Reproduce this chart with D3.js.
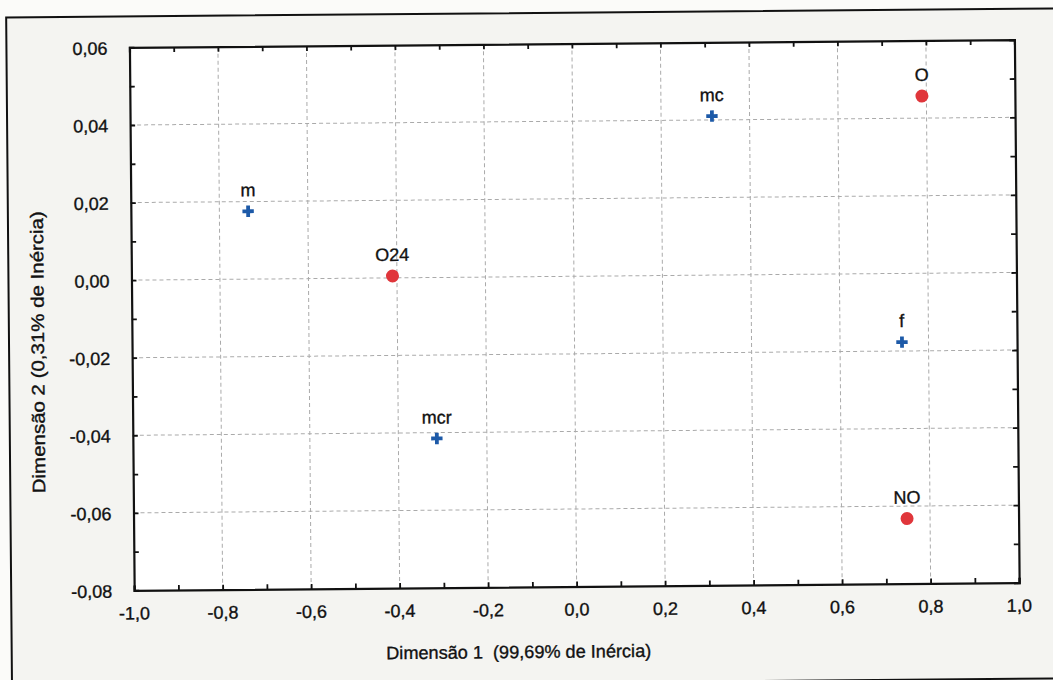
<!DOCTYPE html>
<html>
<head>
<meta charset="utf-8">
<script src="https://cdn.jsdelivr.net/npm/d3@7"></script>
<style>
  body { margin: 0; background: #fbfbf9; }
  svg { display: block; }
  text { font-family: "Liberation Sans", Arial, sans-serif; fill: #111; stroke: #111; stroke-width: 0.35px; }
  .tick-label { font-size: 18px; }
  .pt-label { font-size: 18px; }
  .axis-title { font-size: 18px; }
</style>
</head>
<body>
<script>
// category points (blue crosses)
var rowNames = ["m", "mc", "mcr", "f"];
var rowDim1 = [-0.735, 0.315, -0.313, 0.74];
var rowDim2 = [0.0175, 0.041, -0.0415, -0.0177];

// column points (red dots)
var colNames = ["O", "O24", "NO"];
var colDim1 = [0.79, -0.41, 0.748];
var colDim2 = [0.0457, 0.0005, -0.0632];

var xTicks = [-1.0, -0.8, -0.6, -0.4, -0.2, 0.0, 0.2, 0.4, 0.6, 0.8, 1.0];
var yTicks = [-0.08, -0.06, -0.04, -0.02, 0.00, 0.02, 0.04, 0.06];
var xTitle = "Dimensão 1  (99,69% de Inércia)";
var yTitle = "Dimensão 2 (0,31% de Inércia)";

var W = 1053, H = 680;
var m = {left: 132, right: 1017, top: 44, bottom: 587};

var svg = d3.select("body").append("svg")
  .attr("width", W).attr("height", H);

// the scanned page is slightly tilted
var g = svg.append("g").attr("transform", "rotate(-0.5," + W / 2 + "," + H / 2 + ")");

// outer frame
g.append("rect")
  .attr("x", 9).attr("y", 13).attr("width", W + 20).attr("height", 670)
  .attr("fill", "#f4f4f1").attr("stroke", "#111").attr("stroke-width", 2);

var x = d3.scaleLinear().domain([-1, 1]).range([m.left, m.right]);
var y = d3.scaleLinear().domain([-0.08, 0.06]).range([m.bottom, m.top]);

g.append("rect")
  .attr("x", m.left).attr("y", m.top)
  .attr("width", m.right - m.left).attr("height", m.bottom - m.top)
  .attr("fill", "#fff");

var fmt = function(v, d) { return v.toFixed(d).replace(".", ","); };

// grid
var grid = g.append("g").attr("class", "grid")
  .attr("stroke", "#aaa").attr("stroke-width", 1).attr("stroke-dasharray", "4,3");
grid.selectAll(".gx").data(xTicks.slice(1, -1)).enter().append("line")
  .attr("x1", function(d) { return x(d); }).attr("x2", function(d) { return x(d); })
  .attr("y1", m.top).attr("y2", m.bottom);
grid.selectAll(".gy").data(yTicks.slice(1, -1)).enter().append("line")
  .attr("y1", function(d) { return y(d); }).attr("y2", function(d) { return y(d); })
  .attr("x1", m.left).attr("x2", m.right);

// axes with inward ticks on all four sides
var xMinor = d3.range(-1, 1.0001, 0.1);
var yMinor = d3.range(-0.08, 0.06001, 0.01);
var noLabel = function() { return ""; };

g.append("g").attr("transform", "translate(0," + m.bottom + ")")
  .call(d3.axisBottom(x).tickValues(xMinor).tickSize(-5).tickFormat(noLabel));
g.append("g").attr("transform", "translate(0," + m.top + ")")
  .call(d3.axisTop(x).tickValues(xMinor).tickSize(-5).tickFormat(noLabel));
g.append("g").attr("transform", "translate(" + m.left + ",0)")
  .call(d3.axisLeft(y).tickValues(yMinor).tickSize(-5).tickFormat(noLabel));
g.append("g").attr("transform", "translate(" + m.right + ",0)")
  .call(d3.axisRight(y).tickValues(yMinor).tickSize(-5).tickFormat(noLabel));

g.selectAll(".domain").attr("stroke", "#111").attr("stroke-width", 2.2);
g.selectAll(".tick line").attr("stroke", "#111").attr("stroke-width", 1.8);

// tick labels
g.selectAll(".xl").data(xTicks).enter().append("text")
  .attr("class", "tick-label")
  .attr("x", function(d) { return x(d); })
  .attr("y", m.bottom + 29)
  .attr("text-anchor", "middle")
  .text(function(d) { return fmt(d, 1); });
g.selectAll(".yl").data(yTicks).enter().append("text")
  .attr("class", "tick-label")
  .attr("x", m.left - 22)
  .attr("y", function(d) { return y(d) + 7; })
  .attr("text-anchor", "end")
  .text(function(d) { return fmt(d, 2); });

// titles
g.append("text").attr("class", "axis-title")
  .attr("x", 516).attr("y", 658).attr("text-anchor", "middle")
  .attr("xml:space", "preserve")
  .attr("textLength", 265).attr("lengthAdjust", "spacingAndGlyphs")
  .text(xTitle);
g.append("text").attr("class", "axis-title")
  .attr("transform", "translate(44,348) rotate(-90)")
  .attr("text-anchor", "middle")
  .attr("textLength", 282).attr("lengthAdjust", "spacingAndGlyphs")
  .text(yTitle);

// points
var rows = rowNames.map(function(n, i) { return {name: n, d1: rowDim1[i], d2: rowDim2[i]}; });
var cols = colNames.map(function(n, i) { return {name: n, d1: colDim1[i], d2: colDim2[i]}; });

var cross = d3.symbol().type(d3.symbolCross).size(72);
g.append("g").selectAll("path").data(rows).enter().append("path")
  .attr("d", cross)
  .attr("transform", function(d) { return "translate(" + x(d.d1) + "," + y(d.d2) + ")"; })
  .attr("fill", "#1d5aa8");

g.append("g").selectAll("circle").data(cols).enter().append("circle")
  .attr("cx", function(d) { return x(d.d1); })
  .attr("cy", function(d) { return y(d.d2); })
  .attr("r", 6.5)
  .attr("fill", "#e0363b");

g.append("g").selectAll("text").data(rows.concat(cols)).enter().append("text")
  .attr("class", "pt-label")
  .attr("x", function(d) { return x(d.d1); })
  .attr("y", function(d) { return y(d.d2) - 15; })
  .attr("text-anchor", "middle")
  .text(function(d) { return d.name; });
</script>
</body>
</html>
